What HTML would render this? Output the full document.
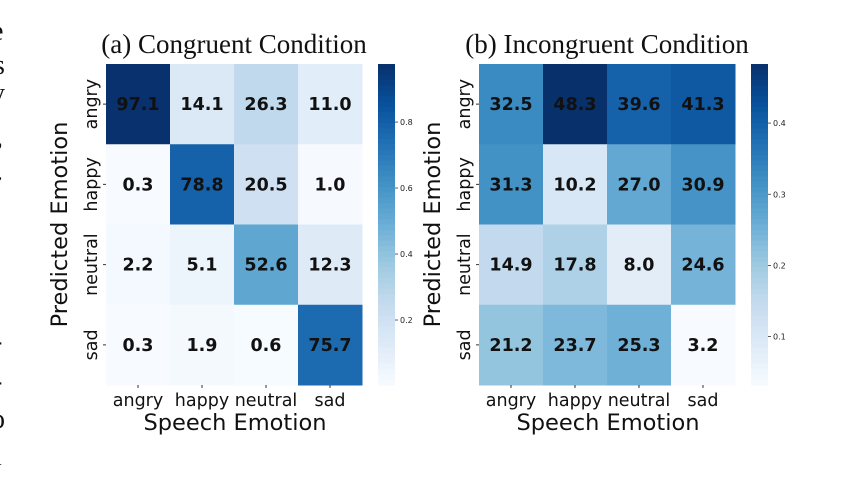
<!DOCTYPE html>
<html><head><meta charset="utf-8"><style>
html,body{margin:0;padding:0;background:#fff;width:844px;height:481px;overflow:hidden}
svg{display:block}
</style></head><body>
<svg id="chart" width="844" height="481" xmlns="http://www.w3.org/2000/svg">
<g font-family="Liberation Serif, serif" font-size="28" fill="#111">
<text x="-9" y="40">e</text><text x="-6" y="74">s</text><text x="-9" y="102">y</text>
<text x="-4" y="146">,</text><text x="-4" y="180">.</text><text x="-7" y="350">-</text>
<text x="-7" y="390">-</text><text x="-9" y="428">o</text><text x="-6" y="465">l</text>
</g>
</svg>
<script>
const categories = ["angry","happy","neutral","sad"];
const congruentValues = [[97.1,14.1,26.3,11.0],[0.3,78.8,20.5,1.0],[2.2,5.1,52.6,12.3],[0.3,1.9,0.6,75.7]];
const incongruentValues = [[32.5,48.3,39.6,41.3],[31.3,10.2,27.0,30.9],[14.9,17.8,8.0,24.6],[21.2,23.7,25.3,3.2]];
const congruentTicks = [0.2,0.4,0.6,0.8];
const incongruentTicks = [0.1,0.2,0.3,0.4];
const congruentRange = [0.003,0.976];
const incongruentRange = [0.032,0.483];
const titles = ["(a) Congruent Condition","(b) Incongruent Condition"];

const NS="http://www.w3.org/2000/svg";
const svg=document.getElementById('chart');
const stops=["#f7fbff","#deebf7","#c6dbef","#9ecae1","#6baed6","#4292c6","#2171b5","#08519c","#08306b"];
function hex(h){return [1,3,5].map(i=>parseInt(h.substr(i,2),16));}
function blues(t){t=Math.max(0,Math.min(1,t));const p=t*8;const i=Math.min(7,Math.floor(p));const f=p-i;const a=hex(stops[i]),b=hex(stops[i+1]);return `rgb(${a.map((v,k)=>Math.round(v+(b[k]-v)*f)).join(',')})`;}
function el(tag,attrs,text){const e=document.createElementNS(NS,tag);for(const k in attrs)e.setAttribute(k,attrs[k]);if(text!==undefined)e.textContent=text;svg.appendChild(e);return e;}

function panel(idx,x0,values,ticks,range,cbx,ylabX,title){
  const y0=64,W=256,H=321,cw=W/categories.length,ch=H/categories.length;
  const norm=v=>(v-range[0])/(range[1]-range[0]);
  let t=el('text',{x:x0+W/2,y:53,'text-anchor':'middle','font-family':'Liberation Serif, serif','font-size':'27',fill:'#111'},title);
  
  
  values.forEach((row,r)=>row.forEach((v,c)=>{
    const rc=el('rect',{x:x0+c*cw,y:y0+r*ch,width:cw+0.5,height:ch+0.5,fill:blues(norm(v/100))});
    
    
    const tx=el('text',{x:x0+c*cw+cw/2,y:y0+r*ch+ch/2+6,'text-anchor':'middle','font-family':'DejaVu Sans, sans-serif','font-weight':'bold','font-size':'17.5',fill:'#111'},v.toFixed(1));
    
    
  }));
  categories.forEach((cat,i)=>{
    const cx=x0+i*cw+cw/2;
    el('line',{x1:cx,y1:y0+H,x2:cx,y2:y0+H+3,stroke:'#333'});
    const xt=el('text',{x:cx,y:406,'text-anchor':'middle','font-family':'DejaVu Sans, sans-serif','font-size':'17.5',fill:'#111'},cat);
    
    
    const cy=y0+i*ch+ch/2;
    el('line',{x1:x0-3,y1:cy,x2:x0,y2:cy,stroke:'#333'});
    const yt=el('text',{x:x0-9,y:cy,'text-anchor':'middle','font-family':'DejaVu Sans, sans-serif','font-size':'17.5',fill:'#111',transform:`rotate(-90 ${x0-9} ${cy})`},cat);
    
    
  });
  const xl=el('text',{x:x0+W/2+1,y:430,'text-anchor':'middle','font-family':'DejaVu Sans, sans-serif','font-size':'22.5',fill:'#111'},'Speech Emotion');
  
  
  const yl=el('text',{x:ylabX,y:y0+H/2,'text-anchor':'middle','font-family':'DejaVu Sans, sans-serif','font-size':'22.5',fill:'#111',transform:`rotate(-90 ${ylabX} ${y0+H/2})`},'Predicted Emotion');
  
  
  const n=60;
  for(let i=0;i<n;i++){
    const r=el('rect',{x:cbx,y:y0+H*i/n,width:17,height:H/n+0.6,fill:blues(1-(i+0.5)/n)});
    
    
  }
  ticks.forEach(tv=>{
    const yy=y0+H*(1-(tv-range[0])/(range[1]-range[0]));
    el('line',{x1:cbx+17,y1:yy,x2:cbx+20,y2:yy,stroke:'#333','stroke-width':'0.8'});
    const lt=el('text',{x:cbx+22,y:yy+3,'font-family':'DejaVu Sans, sans-serif','font-size':'8',fill:'#222'},tv.toFixed(1));
    
    
  });
}
panel(0,106,congruentValues,congruentTicks,congruentRange,378,67,titles[0]);
panel(1,479,incongruentValues,incongruentTicks,incongruentRange,751,440,titles[1]);
</script>
</body></html>
